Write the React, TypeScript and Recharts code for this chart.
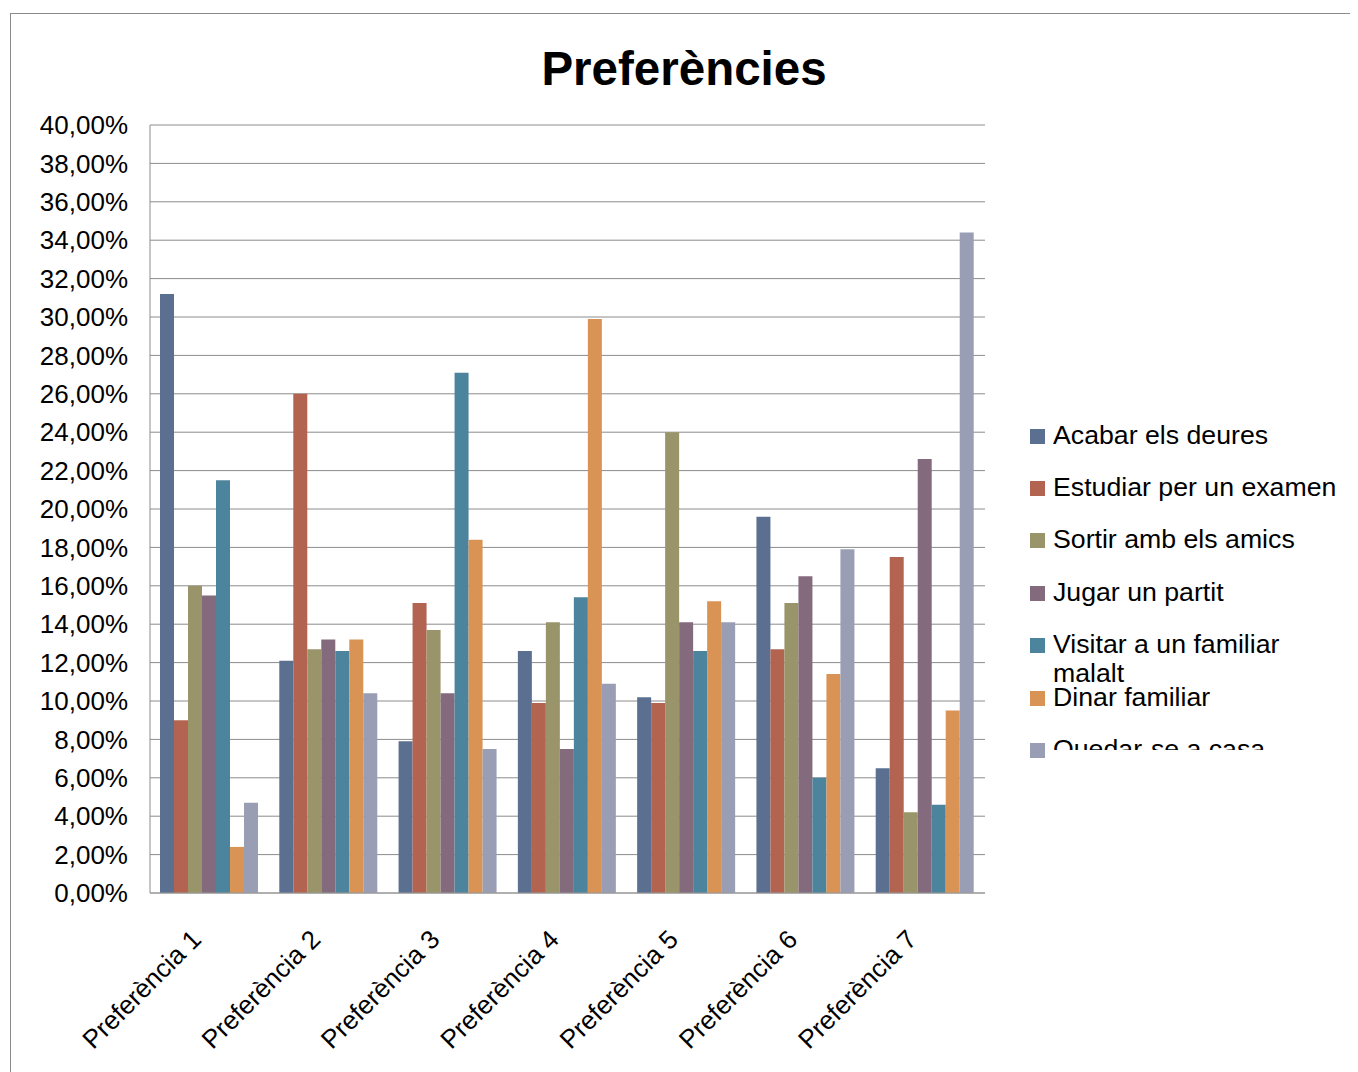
import { Bar, BarChart, CartesianGrid, Legend, XAxis, YAxis } from "recharts";

const categories = [
  "Preferència 1",
  "Preferència 2",
  "Preferència 3",
  "Preferència 4",
  "Preferència 5",
  "Preferència 6",
  "Preferència 7",
];

const seriesNames = [
  "Acabar els deures",
  "Estudiar per un examen",
  "Sortir amb els amics",
  "Jugar un partit",
  "Visitar a un familiar malalt",
  "Dinar familiar",
  "Quedar-se a casa",
];

// percentages per preference, one array per series
const acabar = [31.2, 12.1, 7.9, 12.6, 10.2, 19.6, 6.5];
const estudiar = [9.0, 26.0, 15.1, 9.9, 9.9, 12.7, 17.5];
const sortir = [16.0, 12.7, 13.7, 14.1, 24.0, 15.1, 4.2];
const jugar = [15.5, 13.2, 10.4, 7.5, 14.1, 16.5, 22.6];
const visitar = [21.5, 12.6, 27.1, 15.4, 12.6, 6.0, 4.6];
const dinar = [2.4, 13.2, 18.4, 29.9, 15.2, 11.4, 9.5];
const quedar = [4.7, 10.4, 7.5, 10.9, 14.1, 17.9, 34.4];

const yTicks = [0, 2, 4, 6, 8, 10, 12, 14, 16, 18, 20, 22, 24, 26, 28, 30, 32, 34, 36, 38, 40];

const COLORS = ["#5b7090", "#b26451", "#999469", "#846a7d", "#4d849d", "#d99354", "#9a9eb5"];

const allSeries = [acabar, estudiar, sortir, jugar, visitar, dinar, quedar];

const chartData = categories.map((name, i) => {
  const row: Record<string, string | number> = { name };
  seriesNames.forEach((s, j) => {
    row[s] = allSeries[j][i];
  });
  return row;
});

const FONT = "'Liberation Sans', Arial, sans-serif";

function XTick(props: any) {
  const { x, y, payload } = props;
  const tx = x - 7;
  const ty = y + 40;
  return (
    <text
      x={tx}
      y={ty}
      transform={`rotate(-45, ${tx}, ${ty})`}
      textAnchor="end"
      fontSize={26}
      fontFamily={FONT}
      fill="#000"
    >
      {payload.value}
    </text>
  );
}

function LegendBox() {
  const rowH = 52.4;
  return (
    <div style={{ position: "relative", width: 373, height: 350, fontFamily: FONT }}>
      {seriesNames.map((s, i) => (
        <div
          key={s + "-sq"}
          style={{
            position: "absolute",
            left: 45,
            top: 26 + rowH * i - 7.5,
            width: 15,
            height: 15,
            background: COLORS[i],
          }}
        />
      ))}
      <div
        style={{
          position: "absolute",
          left: 68,
          top: 0,
          width: 292,
          height: 340,
          overflow: "hidden",
        }}
      >
        {seriesNames.map((s, i) => (
          <div
            key={s}
            style={{
              position: "absolute",
              left: 0,
              top: 26 + rowH * i - 15.5,
              width: 292,
              fontSize: 26.7,
              lineHeight: "29px",
              color: "#000",
              whiteSpace: "normal",
            }}
          >
            {s}
          </div>
        ))}
      </div>
    </div>
  );
}

export default function App() {
  return (
    <div style={{ position: "relative", width: 1350, height: 1064, overflow: "hidden", background: "#fff" }}>
      <div
        style={{
          position: "absolute",
          left: 2,
          top: 5,
          width: 1400,
          height: 1100,
          border: "1px solid #8a8a8a",
        }}
      />
      <div
        style={{
          position: "absolute",
          left: 0,
          top: 37,
          width: 1352,
          textAlign: "center",
          fontFamily: FONT,
          fontWeight: "bold",
          fontSize: 47.5,
          lineHeight: "47px",
          color: "#000",
        }}
      >
        Preferències
      </div>
      <div style={{ position: "absolute", left: 0, top: 0 }}>
        <BarChart
          width={1350}
          height={1064}
          data={chartData}
          margin={{ top: 117, right: 0, left: 0, bottom: 0 }}
          barCategoryGap={10}
          barGap={0}
        >
          <CartesianGrid horizontal vertical={false} stroke="#8c8c8c" />
          <XAxis
            dataKey="name"
            height={179}
            axisLine={{ stroke: "#9a9a9a" }}
            tickLine={false}
            tick={<XTick />}
            interval={0}
          />
          <YAxis
            width={142}
            domain={[0, 40]}
            ticks={yTicks}
            interval={0}
            axisLine={{ stroke: "#8c8c8c" }}
            tickLine={false}
            tickMargin={16}
            tick={{ fill: "#000", fontSize: 26, fontFamily: FONT }}
            tickFormatter={(v: number) => v.toFixed(2).replace(".", ",") + "%"}
          />
          <Legend
            layout="vertical"
            align="right"
            verticalAlign="top"
            wrapperStyle={{ top: 402, right: 0 }}
            content={() => <LegendBox />}
          />
          {seriesNames.map((s, i) => (
            <Bar key={s} dataKey={s} fill={COLORS[i]} isAnimationActive={false} />
          ))}
        </BarChart>
      </div>
    </div>
  );
}
